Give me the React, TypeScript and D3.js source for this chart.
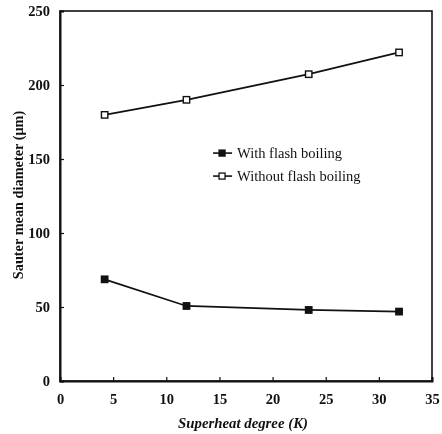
import React, { useRef, useEffect } from 'react';
import * as d3 from 'd3';

const superheat = [4.2, 11.9, 23.4, 31.9];
const withFlash = [68.7, 50.7, 48, 46.9];
const withoutFlash = [179.8, 190, 207.3, 222];
const xTicks = [0, 5, 10, 15, 20, 25, 30, 35];
const yTicks = [0, 50, 100, 150, 200, 250];
const seriesNames = ['With flash boiling', 'Without flash boiling'];

function SauterChart({ width = 442, height = 434 }) {
  const svgRef = useRef<SVGSVGElement | null>(null);

  useEffect(() => {
    const root = d3.select(svgRef.current);
    root.selectAll('*').remove();

    const margin = { top: 11, right: 10, bottom: 53, left: 60 };
    const innerWidth = width - margin.left - margin.right;
    const innerHeight = height - margin.top - margin.bottom;
    const font = "'Liberation Serif', Tinos, 'Times New Roman', 'DejaVu Serif', serif";

    const x = d3.scaleLinear().domain([0, 35]).range([0, innerWidth]);
    const y = d3.scaleLinear().domain([0, 250]).range([innerHeight, 0]);

    const svg = root
      .attr('width', width)
      .attr('height', height)
      .style('display', 'block')
      .append('g')
      .attr('transform', `translate(${margin.left},${margin.top})`);

    // frame
    svg.append('rect')
      .attr('width', innerWidth)
      .attr('height', innerHeight)
      .attr('fill', 'none')
      .attr('stroke', '#111')
      .attr('stroke-width', 1.6);

    // x axis, ticks pointing inward
    const xAxis = svg.append('g')
      .attr('transform', `translate(0,${innerHeight})`)
      .call(d3.axisBottom(x).tickValues(xTicks).tickSize(-4).tickPadding(13));
    xAxis.select('.domain').attr('stroke', '#111').attr('stroke-width', 2);
    xAxis.selectAll('.tick line').attr('stroke', '#111').attr('stroke-width', 1.2);
    xAxis.selectAll('text')
      .attr('font-family', font)
      .attr('font-size', 14.5)
      .attr('font-weight', 'bold')
      .attr('fill', '#111');

    const yAxis = svg.append('g')
      .call(d3.axisLeft(y).tickValues(yTicks).tickSize(-4).tickPadding(10));
    yAxis.select('.domain').attr('stroke', '#111').attr('stroke-width', 2);
    yAxis.selectAll('.tick line').attr('stroke', '#111').attr('stroke-width', 1.2);
    yAxis.selectAll('text')
      .attr('font-family', font)
      .attr('font-size', 14.5)
      .attr('font-weight', 'bold')
      .attr('fill', '#111');

    // axis labels
    svg.append('text')
      .attr('x', innerWidth / 2 - 3)
      .attr('y', innerHeight + 47)
      .attr('text-anchor', 'middle')
      .attr('font-family', font)
      .attr('font-size', 14.8)
      .attr('font-weight', 'bold')
      .attr('font-style', 'italic')
      .attr('fill', '#111')
      .text('Superheat degree (K)');

    svg.append('text')
      .attr('transform', 'rotate(-90)')
      .attr('x', -innerHeight / 2 + 1)
      .attr('y', -37)
      .attr('text-anchor', 'middle')
      .attr('font-family', font)
      .attr('font-size', 14.3)
      .attr('font-weight', 'bold')
      .attr('fill', '#111')
      .text('Sauter mean diameter (\u03bcm)');

    const line = d3.line<number>()
      .x((_, i) => x(superheat[i]))
      .y(d => y(d));

    const series = [withFlash, withoutFlash];
    series.forEach((vals, si) => {
      svg.append('path')
        .datum(vals)
        .attr('d', line)
        .attr('fill', 'none')
        .attr('stroke', '#111')
        .attr('stroke-width', 1.7);

      svg.selectAll(`.pt${si}`)
        .data(vals)
        .enter()
        .append('rect')
        .attr('class', `pt${si}`)
        .attr('x', (_, i) => x(superheat[i]) - 3.2)
        .attr('y', d => y(d) - 3.2)
        .attr('width', 6.4)
        .attr('height', 6.4)
        .attr('fill', si === 0 ? '#111' : '#fff')
        .attr('stroke', '#111')
        .attr('stroke-width', 1.4);
    });

    // legend
    const legend = svg.append('g')
      .attr('transform', `translate(${x(14.4)},${y(154)})`);

    seriesNames.forEach((name, i) => {
      const row = legend.append('g').attr('transform', `translate(0,${i * 23})`);
      row.append('line')
        .attr('x1', 0).attr('x2', 19)
        .attr('y1', 0).attr('y2', 0)
        .attr('stroke', '#111')
        .attr('stroke-width', 1.6);
      row.append('rect')
        .attr('x', 6).attr('y', -3)
        .attr('width', 6).attr('height', 6)
        .attr('fill', i === 0 ? '#111' : '#fff')
        .attr('stroke', '#111')
        .attr('stroke-width', 1.3);
      row.append('text')
        .attr('x', 24)
        .attr('y', 5)
        .attr('font-family', font)
        .attr('font-size', 14.5)
        .attr('fill', '#111')
        .text(name);
    });
  }, [width, height]);

  return <svg ref={svgRef}></svg>;
}

export default function App() {
  return (
    <div style={{ position: 'fixed', left: 0, top: 0 }}>
      <SauterChart />
    </div>
  );
}
